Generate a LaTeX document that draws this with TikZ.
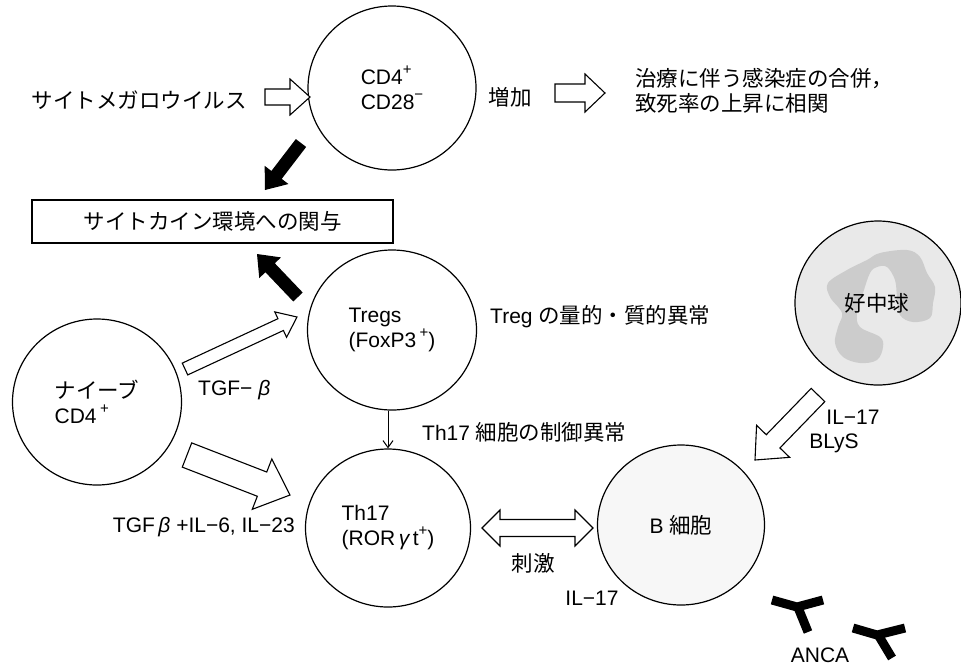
\documentclass[tikz,border=0pt]{standalone}
\usepackage{fontspec}
\setmainfont{Liberation Sans}
\newfontfamily\jp{Noto Sans CJK JP}
\usetikzlibrary{shapes.geometric,calc,arrows.meta}

% Japanese text at its own size
\newcommand\J[1]{{\jp\fontsize{21.5}{25}\selectfont #1}}
% raised charge sign
\newcommand\charge[1]{\raisebox{0.5em}{\fontsize{15}{15}\selectfont #1}}

% open or solid block arrow: style, tail, tip, body half width, head half width, head length
\newcommand\blockarrow[6]{%
  \coordinate (ba-n) at ($(#3)!#6!(#2)$);
  \draw[#1] ($(#2)!#4!90:(#3)$) -- ($(ba-n)!#4!90:(#3)$) -- ($(ba-n)!#5!90:(#3)$) -- (#3)
    -- ($(ba-n)!#5!-90:(#3)$) -- ($(ba-n)!#4!-90:(#3)$) -- ($(#2)!#4!-90:(#3)$) -- cycle;}

% double-headed block arrow: style, end 1, end 2, body half width, head half width, head length
\newcommand\dblarrow[6]{%
  \coordinate (da-a) at ($(#2)!#6!(#3)$);
  \coordinate (da-b) at ($(#3)!#6!(#2)$);
  \draw[#1] (#2) -- ($(da-a)!#5!90:(#3)$) -- ($(da-a)!#4!90:(#3)$) -- ($(da-b)!#4!90:(#3)$)
    -- ($(da-b)!#5!90:(#3)$) -- (#3) -- ($(da-b)!#5!-90:(#3)$) -- ($(da-b)!#4!-90:(#3)$)
    -- ($(da-a)!#4!-90:(#3)$) -- ($(da-a)!#5!-90:(#3)$) -- cycle;}

\tikzset{
  cell/.style={draw, ellipse, line width=1.2pt, inner sep=0pt, align=left,
    font=\fontsize{21}{25}\selectfont},
  lbl/.style={inner sep=0pt, font=\fontsize{21}{25}\selectfont},
  jlbl/.style={inner sep=0pt, font=\jp\fontsize{21.5}{25}\selectfont},
  openarrow/.style={draw, fill=white, line width=1.1pt, line join=miter},
  solidarrow/.style={draw=none, fill=black},
  anca/.style={line width=9pt, line join=miter, draw=black},
}

\begin{document}
\begin{tikzpicture}[x=1pt, y=-1pt]
\useasboundingbox (0,0) rectangle (961,665);

% cells
\node[cell, minimum width=168pt, minimum height=164pt] (cd28) at (392,88)
  {CD4\charge{+}\\CD28\charge{−}};
\node[cell, minimum width=169pt, minimum height=160pt] (tregs) at (392,330)
  {Tregs\\(FoxP3\,\charge{+})};
\node[cell, minimum width=169pt, minimum height=166pt] (naive) at (97,402)
  {\J{ナイーブ}\\CD4\,\charge{+}};
\node[cell, minimum width=165pt, minimum height=158pt] (th17) at (388,528)
  {Th17\\(ROR\,{\itshape γ}\,t\charge{+})};
\node[cell, fill=gray!6, minimum width=167pt, minimum height=160pt] (bcell) at (681,525)
  {B \J{細胞}};
\node[cell, fill=gray!17, minimum width=166pt, minimum height=164pt] (neut) at (878,303) {};

% neutrophil nucleus
\fill[gray!40] plot[smooth cycle, tension=0.6] coordinates {
  (828,283) (847,270) (867,260) (880,253) (907,250) (920,257) (927,273) (935,287)
  (933,303) (930,318) (913,322) (900,315) (897,297) (895,280) (887,267) (877,267)
  (870,273) (863,293) (857,313) (860,327) (880,337) (883,347) (877,360) (860,363)
  (843,357) (835,343) (838,327) (842,313) (830,297)};
\node[jlbl] (neuttxt) at (877,303) {好中球};

% labels
\node[jlbl] (cmv) at (139,100) {サイトメガロウイルス};
\node[jlbl] (incr) at (510,97) {増加};
\node[jlbl, anchor=west, align=left] (outc) at (635,91)
  {治療に伴う感染症の合併，\\致死率の上昇に相関};
\node[jlbl, draw, line width=1.1pt, minimum width=361pt, minimum height=43pt] (cyto)
  at (212.5,221.5) {サイトカイン環境への関与};
\node[lbl, anchor=west] (tregab) at (490,317) {Treg \J{の量的・質的異常}};
\node[lbl, anchor=west] (thctrl) at (422,432) {Th17 \J{細胞の制御異常}};
\node[lbl, anchor=west] (tgf) at (198,390) {TGF− {\itshape β}};
\node[lbl, anchor=east] (tgfil) at (295,527) {TGF\,{\itshape β} +IL−6, IL−23};
\node[lbl] (il17a) at (853,417) {IL−17};
\node[lbl] (blys) at (834,443) {BLyS};
\node[jlbl] (stim) at (533,563) {刺激};
\node[lbl] (il17b) at (592,598) {IL−17};
\node[lbl] (ancatxt) at (820,655) {ANCA};

% block arrows
\coordinate (cmvT) at (265,97);  \coordinate (cmvH) at (310,97);
\blockarrow{openarrow}{cmvT}{cmvH}{8pt}{18pt}{20pt}
\coordinate (incT) at (555,93);  \coordinate (incH) at (605,93);
\blockarrow{openarrow}{incT}{incH}{9pt}{19pt}{20pt}
\coordinate (k1T) at (301,143);  \coordinate (k1H) at (265,190);
\blockarrow{solidarrow}{k1T}{k1H}{6.5pt}{15pt}{19pt}
\coordinate (k2T) at (298,297);  \coordinate (k2H) at (257,254);
\blockarrow{solidarrow}{k2T}{k2H}{6.5pt}{15pt}{19pt}
\coordinate (tgT) at (185,369);  \coordinate (tgH) at (297,317);
\blockarrow{openarrow}{tgT}{tgH}{6.5pt}{14pt}{18pt}
\coordinate (thT) at (187,455);  \coordinate (thH) at (290,495);
\blockarrow{openarrow}{thT}{thH}{13pt}{27pt}{30pt}
\coordinate (nbT) at (818,395);  \coordinate (nbH) at (755,460);
\blockarrow{openarrow}{nbT}{nbH}{9.5pt}{23pt}{26pt}
\coordinate (stA) at (482,528);  \coordinate (stB) at (593,528);
\dblarrow{openarrow}{stA}{stB}{8.5pt}{18pt}{18pt}

% Tregs -> Th17
\draw[line width=1pt, -{Straight Barb[length=7pt, width=10pt]}]
  (th17.north |- tregs.south) -- (th17.north);

% ANCA antibodies
\draw[anca] (772,600) -- (797,607) -- (823,600);
\draw[anca] (797,605) -- (808,632);
\draw[anca] (853,628) -- (877,635) -- (905,628);
\draw[anca] (877,633) -- (892,658);
\end{tikzpicture}
\end{document}
